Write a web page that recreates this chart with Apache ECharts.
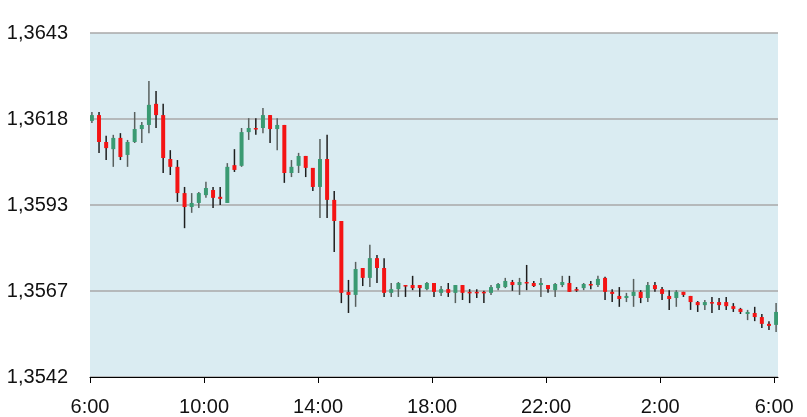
<!DOCTYPE html>
<html><head><meta charset="utf-8">
<script src="https://cdn.jsdelivr.net/npm/echarts@6/dist/echarts.min.js"></script>
<style>html,body{margin:0;padding:0;background:#fff}#c{width:807px;height:417px}</style>
</head><body><div id="c"></div>
<script>
// 15-minute candles from 6:00 to 6:00 next day (minutes after 6:00)
const slotMinutes = [];
for (let i = 0; i < 97; i++) slotMinutes.push(4 + 15 * i);

const openVals = [1.36172,1.36189,1.36110,1.36089,1.36122,1.36072,1.36110,1.36148,1.36160,1.36222,
1.36189,1.36060,1.36037,1.35960,1.35919,1.35931,1.35954,1.35969,1.35949,1.35931,
1.36042,1.36040,1.36139,1.36151,1.36151,1.36189,1.36148,1.36160,1.36019,1.36040,
1.36069,1.36034,1.35978,1.36060,1.35940,1.35878,1.35670,1.35661,1.35740,1.35711,
1.35769,1.35740,1.35667,1.35678,1.35690,1.35690,1.35690,1.35678,1.35696,1.35667,
1.35678,1.35667,1.35690,1.35670,1.35670,1.35670,1.35667,1.35681,1.35684,1.35699,
1.35690,1.35699,1.35696,1.35690,1.35690,1.35675,1.35690,1.35696,1.35678,1.35681,
1.35693,1.35690,1.35711,1.35670,1.35658,1.35652,1.35658,1.35670,1.35652,1.35690,
1.35678,1.35658,1.35652,1.35670,1.35658,1.35640,1.35631,1.35640,1.35640,1.35640,
1.35628,1.35620,1.35605,1.35608,1.35596,1.35576,1.35573];
const closeVals = [1.36189,1.36110,1.36092,1.36122,1.36066,1.36110,1.36148,1.36160,1.36219,1.36189,
1.36063,1.36037,1.35960,1.35919,1.35931,1.35960,1.35975,1.35946,1.35943,1.36037,
1.36028,1.36139,1.36151,1.36148,1.36189,1.36148,1.36160,1.36019,1.36037,1.36069,
1.36034,1.35978,1.36060,1.35940,1.35878,1.35667,1.35661,1.35737,1.35711,1.35769,
1.35740,1.35667,1.35678,1.35696,1.35687,1.35681,1.35681,1.35696,1.35670,1.35678,
1.35667,1.35690,1.35667,1.35667,1.35667,1.35667,1.35684,1.35693,1.35702,1.35690,
1.35699,1.35696,1.35687,1.35696,1.35678,1.35693,1.35699,1.35670,1.35675,1.35693,
1.35690,1.35708,1.35670,1.35664,1.35649,1.35658,1.35670,1.35652,1.35690,1.35678,
1.35664,1.35649,1.35670,1.35661,1.35640,1.35631,1.35640,1.35637,1.35631,1.35628,
1.35620,1.35611,1.35611,1.35596,1.35576,1.35570,1.35611];
const lowVals = [1.36166,1.36078,1.36057,1.36037,1.36057,1.36037,1.36107,1.36107,1.36136,1.36151,
1.36019,1.36013,1.35934,1.35857,1.35902,1.35916,1.35946,1.35916,1.35925,1.35931,
1.36022,1.36037,1.36116,1.36131,1.36136,1.36107,1.36086,1.35990,1.36007,1.36019,
1.36007,1.35966,1.35887,1.35887,1.35787,1.35637,1.35608,1.35626,1.35687,1.35684,
1.35696,1.35655,1.35655,1.35655,1.35655,1.35675,1.35655,1.35675,1.35655,1.35658,
1.35655,1.35637,1.35646,1.35637,1.35652,1.35637,1.35661,1.35675,1.35681,1.35673,
1.35661,1.35675,1.35684,1.35655,1.35667,1.35655,1.35684,1.35670,1.35670,1.35675,
1.35678,1.35684,1.35646,1.35640,1.35626,1.35640,1.35626,1.35637,1.35640,1.35670,
1.35646,1.35617,1.35626,1.35655,1.35617,1.35611,1.35617,1.35608,1.35617,1.35617,
1.35611,1.35605,1.35587,1.35584,1.35564,1.35558,1.35552];
const highVals = [1.36198,1.36198,1.36128,1.36131,1.36136,1.36116,1.36198,1.36169,1.36289,1.36260,
1.36222,1.36086,1.36057,1.35978,1.35960,1.35963,1.35993,1.35978,1.35978,1.36048,
1.36089,1.36151,1.36180,1.36180,1.36210,1.36189,1.36180,1.36160,1.36057,1.36078,
1.36069,1.36034,1.36119,1.36131,1.35966,1.35878,1.35705,1.35758,1.35740,1.35808,
1.35778,1.35769,1.35696,1.35699,1.35690,1.35717,1.35690,1.35699,1.35696,1.35687,
1.35696,1.35690,1.35690,1.35678,1.35678,1.35673,1.35690,1.35696,1.35711,1.35705,
1.35711,1.35749,1.35702,1.35711,1.35690,1.35696,1.35717,1.35717,1.35684,1.35696,
1.35702,1.35717,1.35714,1.35678,1.35684,1.35667,1.35708,1.35675,1.35699,1.35699,
1.35684,1.35675,1.35675,1.35670,1.35658,1.35643,1.35646,1.35655,1.35652,1.35655,
1.35637,1.35623,1.35617,1.35626,1.35605,1.35584,1.35637];

const xTickMinutes = [0, 240, 480, 720, 960, 1200, 1440];
const yMin = 1.3542, yMax = 1.3643, yStep = 0.002525;

const data = slotMinutes.map((t, i) => [t, openVals[i], closeVals[i], lowVals[i], highVals[i]]);

const chart = echarts.init(document.getElementById('c'), null, {renderer: 'canvas'});
chart.setOption({
  animation: false,
  textStyle: {fontFamily: 'Liberation Sans, Arial, sans-serif'},
  grid: {left: 90, right: 29, top: 33, bottom: 40, show: true, backgroundColor: '#daecf2', borderWidth: 0},
  xAxis: {
    type: 'value', min: 0, max: 1448,
    axisLine: {show: true, lineStyle: {color: '#000', width: 1}},
    axisTick: {show: true, customValues: xTickMinutes, length: 6, lineStyle: {color: '#000'}},
    axisLabel: {customValues: xTickMinutes, color: '#111', fontSize: 20, margin: 20,
      formatter: v => (((6 + v / 60) % 24)) + ':00'},
    splitLine: {show: false}
  },
  yAxis: {
    type: 'value', min: yMin, max: yMax, interval: yStep,
    axisLine: {show: false}, axisTick: {show: false},
    axisLabel: {color: '#111', fontSize: 20, margin: 22,
      formatter: v => (Math.round(v * 1e4 + 1e-6) / 1e4).toFixed(4).replace('.', ',')},
    splitLine: {show: true, lineStyle: {color: '#a8a8a8', width: 1.5}}
  },
  series: [{
    type: 'custom',
    data: data,
    encode: {x: 0, y: [1, 2, 3, 4]},
    clip: true,
    renderItem: function (params, api) {
      const x = api.value(0), o = api.value(1), c = api.value(2), l = api.value(3), h = api.value(4);
      const pO = api.coord([x, o]), pC = api.coord([x, c]);
      const pL = api.coord([x, l]), pH = api.coord([x, h]);
      const up = c >= o;
      const w = api.size([15, 0])[0] * 0.56;
      const top = Math.min(pO[1], pC[1]);
      const bot = Math.max(pO[1], pC[1]);
      return {type: 'group', children: [
        {type: 'line', shape: {x1: pH[0], y1: pH[1], x2: pL[0], y2: pL[1]},
          style: {stroke: up ? '#58605e' : '#1e1e1e', lineWidth: 1.5}},
        {type: 'rect', shape: {x: pO[0] - w / 2, y: top, width: w, height: Math.max(bot - top, 1.5)},
          style: {fill: up ? '#3a9a72' : '#f41414'}}
      ]};
    }
  }]
});
</script></body></html>
